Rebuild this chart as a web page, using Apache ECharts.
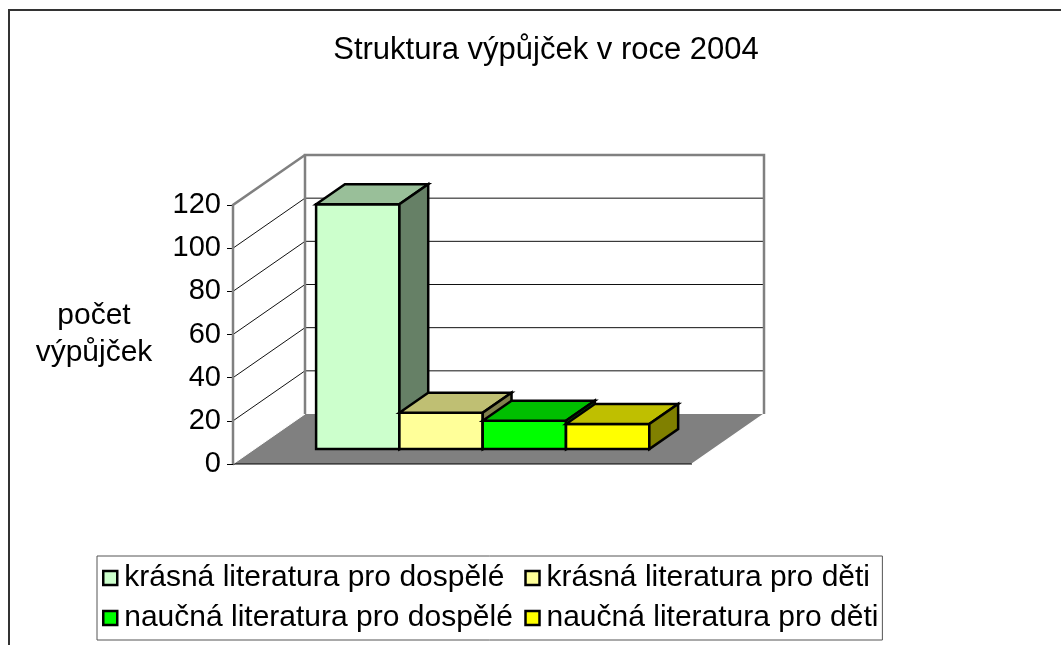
<!DOCTYPE html>
<html>
<head>
<meta charset="utf-8">
<script src="https://cdn.jsdelivr.net/npm/echarts@6/dist/echarts.min.js"></script>
<style>
html,body{margin:0;padding:0;background:#fff;}
#chart{width:1061px;height:645px;}
</style>
</head>
<body>
<div id="chart"></div>
<script>
// ---- data ----
const chartTitle = 'Struktura výpůjček v roce 2004';
const yAxisName = 'počet\nvýpůjček';
const categories = ['2004'];
const seriesNames = [
  'krásná literatura pro dospělé',
  'krásná literatura pro děti',
  'naučná literatura pro dospělé',
  'naučná literatura pro děti'
];
const seriesValues = [113.4, 16.8, 13.1, 11.6];
const yTicks = [0, 20, 40, 60, 80, 100, 120];

// ---- style ----
const FONT = "'Liberation Sans', Arial, sans-serif";
const frontColors = ['#CCFFCC', '#FFFF99', '#00FF00', '#FFFF00'];
const topColors   = ['#99BF99', '#BFBF73', '#00BF00', '#BFBF00'];
const sideColors  = ['#668066', '#80804D', '#008000', '#808000'];
const DX = 72, DY = -50;          // depth of the 3D box
const F1 = 0.30, F2 = 0.70;       // bar front / back planes (fraction of depth)
const GAP_FRAC = 0.134, BAR_FRAC = 0.1815;

function renderWalls(params, api) {
  const cs = params.coordSys;
  const L = cs.x, R = cs.x + cs.width;
  const B = api.coord([0, yTicks[0]])[1];
  const T = api.coord([0, yTicks[yTicks.length - 1]])[1];
  const children = [];
  children.push({type: 'polygon', shape: {points: [[L + DX, T + DY], [R + DX, T + DY], [R + DX, B + DY], [L + DX, B + DY]]},
    style: {fill: '#fff', stroke: null}});
  children.push({type: 'polygon', shape: {points: [[L, T], [L + DX, T + DY], [L + DX, B + DY], [L, B]]},
    style: {fill: '#fff', stroke: null}});
  for (let k = 1; k < yTicks.length - 1; k++) {
    const y = api.coord([0, yTicks[k]])[1];
    children.push({type: 'line', shape: {x1: L + DX, y1: y + DY, x2: R + DX, y2: y + DY}, style: {stroke: '#111', lineWidth: 1}});
    children.push({type: 'line', shape: {x1: L, y1: y, x2: L + DX, y2: y + DY}, style: {stroke: '#111', lineWidth: 1}});
  }
  children.push({type: 'polygon', shape: {points: [[L, B], [L + DX, B + DY], [R + DX, B + DY], [R, B]]},
    style: {fill: '#808080', stroke: null}});
  children.push({type: 'line', shape: {x1: L, y1: B, x2: R, y2: B}, style: {stroke: '#000', lineWidth: 1}});
  children.push({type: 'line', shape: {x1: R, y1: B, x2: R + DX, y2: B + DY}, style: {stroke: '#fff', lineWidth: 1.5}});
  children.push({type: 'line', shape: {x1: L, y1: B, x2: L + DX, y2: B + DY}, style: {stroke: '#fff', lineWidth: 1}});
  children.push({type: 'polyline', shape: {points: [[L + DX, B + DY], [L + DX, T + DY], [R + DX, T + DY], [R + DX, B + DY]]},
    style: {fill: null, stroke: '#808080', lineWidth: 2.5}});
  children.push({type: 'polyline', shape: {points: [[L, B], [L, T], [L + DX, T + DY]]},
    style: {fill: null, stroke: '#808080', lineWidth: 2.5}});
  return {type: 'group', children: children};
}

function makeBarRenderer(i) {
  return function (params, api) {
    const cs = params.coordSys;
    const base = api.coord([0, 0]);
    const top = api.coord([0, api.value(1)]);
    const w = cs.width * BAR_FRAC;
    const x0 = cs.x + cs.width * GAP_FRAC + i * w + DX * F1;
    const yb = base[1] + DY * F1;
    const yt = top[1] + DY * F1;
    const ddx = DX * (F2 - F1), ddy = DY * (F2 - F1);
    const st = {stroke: '#000', lineWidth: 2.5, lineJoin: 'miter'};
    return {type: 'group', children: [
      {type: 'polygon', shape: {points: [[x0, yb], [x0, yt], [x0 + w, yt], [x0 + w, yb]]},
        style: Object.assign({fill: frontColors[i]}, st)},
      {type: 'polygon', shape: {points: [[x0, yt], [x0 + ddx, yt + ddy], [x0 + w + ddx, yt + ddy], [x0 + w, yt]]},
        style: Object.assign({fill: topColors[i]}, st)},
      {type: 'polygon', shape: {points: [[x0 + w, yb], [x0 + w, yt], [x0 + w + ddx, yt + ddy], [x0 + w + ddx, yb + ddy]]},
        style: Object.assign({fill: sideColors[i]}, st)}
    ]};
  };
}

const series = [{
  type: 'custom',
  name: '__walls',
  silent: true,
  z: 1,
  renderItem: renderWalls,
  data: [[0, yTicks[yTicks.length - 1]]]
}];
seriesNames.forEach(function (name, i) {
  series.push({
    type: 'custom',
    name: name,
    silent: true,
    z: 2,
    itemStyle: {color: frontColors[i], borderColor: '#000', borderWidth: 2},
    renderItem: makeBarRenderer(i),
    data: [[0, seriesValues[i]]]
  });
});

const legendData = seriesNames.map(function (n, i) {
  return i % 2 === 0 ? {name: n, textStyle: {width: 390}} : {name: n};
});

const chart = echarts.init(document.getElementById('chart'), null, {renderer: 'canvas'});
chart.setOption({
  animation: false,
  backgroundColor: '#fff',
  textStyle: {fontFamily: FONT},
  title: {
    text: chartTitle,
    left: 541,
    textAlign: 'center',
    top: 30,
    textStyle: {fontFamily: FONT, fontSize: 31, fontWeight: 'normal', color: '#000'}
  },
  graphic: [{
    type: 'rect',
    shape: {x: 9, y: 10, width: 1200, height: 800},
    style: {fill: null, stroke: '#333', lineWidth: 2},
    silent: true,
    z: 0
  }],
  grid: {left: 233, top: 205, width: 459, height: 259, containLabel: false},
  xAxis: {
    type: 'category',
    data: categories,
    show: false
  },
  yAxis: {
    type: 'value',
    min: 0,
    max: 120,
    interval: 20,
    name: yAxisName,
    nameLocation: 'middle',
    nameRotate: 0,
    nameGap: 139,
    nameTextStyle: {fontFamily: FONT, fontSize: 30, color: '#000', align: 'center', lineHeight: 37},
    axisLine: {show: true, lineStyle: {color: '#808080', width: 2.5}},
    axisTick: {show: true, length: 6, lineStyle: {color: '#000', width: 1}},
    axisLabel: {fontFamily: FONT, fontSize: 29, color: '#000', margin: 12},
    splitLine: {show: false}
  },
  legend: {
    data: legendData,
    left: 97,
    top: 556,
    width: 820,
    orient: 'horizontal',
    padding: [7, 4, 7, 5],
    itemGap: 10,
    itemWidth: 14,
    itemHeight: 14,
    icon: 'rect',
    borderColor: '#555',
    borderWidth: 1,
    selectedMode: false,
    itemStyle: {borderColor: '#000', borderWidth: 2.5},
    textStyle: {fontFamily: FONT, fontSize: 30, color: '#000', lineHeight: 28, padding: [0, 0, 0, 2]}
  },
  series: series
});
</script>
</body>
</html>
